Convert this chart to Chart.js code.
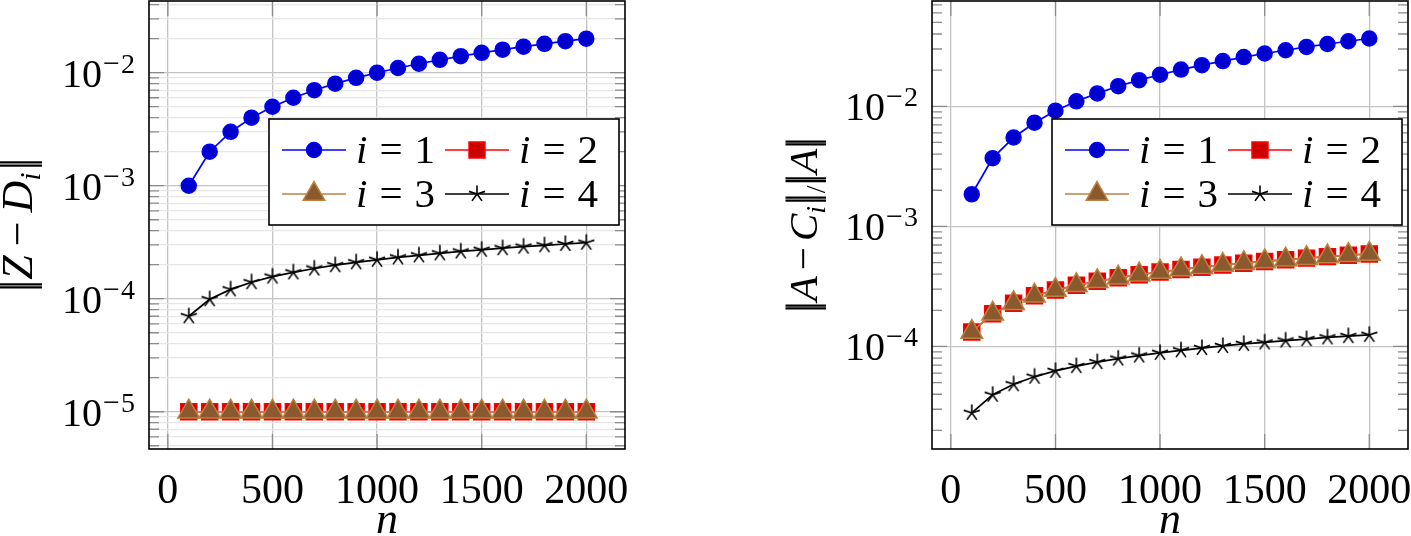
<!DOCTYPE html>
<html>
<head>
<meta charset="utf-8">
<script src="https://cdn.jsdelivr.net/npm/chart.js@4/dist/chart.umd.min.js"></script>
<style>
  html, body { margin: 0; padding: 0; background: #fff; }
  #wrap { position: relative; width: 1411px; height: 536px; }
  .box { position: absolute; top: 0; height: 536px; }
</style>
</head>
<body>
<div id="wrap">
  <div class="box" style="left:0;width:628px"><canvas id="leftPlot"></canvas></div>
  <div class="box" style="left:700px;width:711px"><canvas id="rightPlot"></canvas></div>
</div>
<script>
// ---- data ----
const nValues = [100, 200, 300, 400, 500, 600, 700, 800, 900, 1000, 1100, 1200, 1300, 1400, 1500, 1600, 1700, 1800, 1900, 2000];
const xTickValues = [0, 500, 1000, 1500, 2000];
const leftDecades = [1e-5, 1e-4, 1e-3, 1e-2];
const rightDecades = [1e-4, 1e-3, 1e-2];
const seriesIndex = ['1', '2', '3', '4'];

// left: ||Z - D_i||
const leftI1 = [0.001, 0.002, 0.003, 0.004, 0.005, 0.006, 0.007, 0.008, 0.009, 0.010, 0.011, 0.012, 0.013, 0.014, 0.015, 0.016, 0.017, 0.018, 0.019, 0.020];
const leftI2 = [1e-5, 1e-5, 1e-5, 1e-5, 1e-5, 1e-5, 1e-5, 1e-5, 1e-5, 1e-5, 1e-5, 1e-5, 1e-5, 1e-5, 1e-5, 1e-5, 1e-5, 1e-5, 1e-5, 1e-5];
const leftI3 = [1e-5, 1e-5, 1e-5, 1e-5, 1e-5, 1e-5, 1e-5, 1e-5, 1e-5, 1e-5, 1e-5, 1e-5, 1e-5, 1e-5, 1e-5, 1e-5, 1e-5, 1e-5, 1e-5, 1e-5];
const leftI4 = [7.0e-5, 9.9e-5, 1.21e-4, 1.40e-4, 1.57e-4, 1.71e-4, 1.85e-4, 1.98e-4, 2.10e-4, 2.21e-4, 2.32e-4, 2.42e-4, 2.52e-4, 2.62e-4, 2.71e-4, 2.80e-4, 2.89e-4, 2.97e-4, 3.05e-4, 3.13e-4];

// right: ||A - C_i|| / ||A||
const rightI1 = [0.00185, 0.0037, 0.0055, 0.0073, 0.0092, 0.0110, 0.0128, 0.0147, 0.0165, 0.0183, 0.0202, 0.0220, 0.0238, 0.0257, 0.0275, 0.0293, 0.0312, 0.0330, 0.0348, 0.0367];
const rightI2 = [1.32e-4, 1.87e-4, 2.29e-4, 2.64e-4, 2.95e-4, 3.23e-4, 3.49e-4, 3.73e-4, 3.96e-4, 4.17e-4, 4.38e-4, 4.57e-4, 4.76e-4, 4.94e-4, 5.11e-4, 5.28e-4, 5.44e-4, 5.60e-4, 5.75e-4, 5.90e-4];
const rightI3 = [1.32e-4, 1.87e-4, 2.29e-4, 2.64e-4, 2.95e-4, 3.23e-4, 3.49e-4, 3.73e-4, 3.96e-4, 4.17e-4, 4.38e-4, 4.57e-4, 4.76e-4, 4.94e-4, 5.11e-4, 5.28e-4, 5.44e-4, 5.60e-4, 5.75e-4, 5.90e-4];
const rightI4 = [2.80e-5, 3.96e-5, 4.85e-5, 5.60e-5, 6.26e-5, 6.86e-5, 7.41e-5, 7.92e-5, 8.40e-5, 8.85e-5, 9.29e-5, 9.70e-5, 1.01e-4, 1.05e-4, 1.08e-4, 1.12e-4, 1.15e-4, 1.19e-4, 1.22e-4, 1.25e-4];

// ---- styling ----
const SERIF = '"Liberation Serif", "DejaVu Serif", serif';

// pgfplots-like five-ray star mark
const starImg = document.createElement('canvas');
starImg.width = 20; starImg.height = 20;
(() => {
  const c = starImg.getContext('2d');
  c.strokeStyle = '#000'; c.lineWidth = 1.6;
  c.beginPath();
  for (let k = 0; k < 5; k++) {
    const a = -Math.PI / 2 + k * 2 * Math.PI / 5;
    c.moveTo(10, 10);
    c.lineTo(10 + 8.5 * Math.cos(a), 10 + 8.5 * Math.sin(a));
  }
  c.stroke();
})();

const marks = [
  { line: '#0000ff', fill: '#0000cc', style: 'circle', r: 7.5 },
  { line: '#ff0000', fill: '#cc0000', style: 'rect', r: 11.3 },
  { line: '#bf8040', fill: '#8a5a2e', style: 'triangle', r: 12.5 },
  { line: '#000000', fill: '#000000', style: starImg, r: 8 },
];

function gridValues(lo, hi) {
  const out = [];
  for (let e = Math.floor(Math.log10(lo)) - 1; e <= Math.ceil(Math.log10(hi)); e++) {
    for (let m = 1; m <= 9; m++) {
      const v = m * Math.pow(10, e);
      if (v >= lo && v <= hi) out.push(v);
    }
  }
  return out;
}
const isDecade = v => Math.abs(Math.log10(v) - Math.round(Math.log10(v))) < 1e-9;

function drawRich(ctx, parts, x, y, align) {
  let w = 0;
  parts.forEach(p => {
    ctx.font = (p.italic ? 'italic ' : '') + p.size + 'px ' + SERIF;
    p.w = ctx.measureText(p.t).width;
    w += p.w + (p.gap || 0);
  });
  let cx = align === 'center' ? x - w / 2 : align === 'right' ? x - w : x;
  parts.forEach(p => {
    ctx.font = (p.italic ? 'italic ' : '') + p.size + 'px ' + SERIF;
    ctx.fillText(p.t, cx, y + (p.dy || 0));
    cx += p.w + (p.gap || 0);
  });
}

function drawMark(ctx, m, x, y) {
  if (m.style === starImg) {
    ctx.drawImage(starImg, x - 10, y - 10);
    return;
  }
  ctx.fillStyle = m.fill; ctx.strokeStyle = m.line; ctx.lineWidth = 1.5;
  Chart.helpers.drawPoint(ctx, { pointStyle: m.style, radius: m.r, borderWidth: 1.5, rotation: 0 }, x, y);
}

// norm bars drawn as two close vertical strokes
const bar = size => [{ t: '|', size, gap: -6 }, { t: '|', size }];

const axisDecor = {
  id: 'axisDecor',
  beforeDatasetsDraw(chart, args, o) {
    const { ctx, chartArea: a, scales: { x, y } } = chart;
    ctx.save();
    ctx.strokeStyle = '#8c8c8c';
    ctx.lineWidth = 1.3;
    ctx.beginPath();
    o.grid.forEach(v => {
      const py = y.getPixelForValue(v);
      const len = isDecade(v) ? 15 : 10;
      ctx.moveTo(a.left, py); ctx.lineTo(a.left + len, py);
      ctx.moveTo(a.right, py); ctx.lineTo(a.right - len, py);
    });
    xTickValues.forEach(v => {
      const px = x.getPixelForValue(v);
      ctx.moveTo(px, a.top); ctx.lineTo(px, a.top + 15);
      ctx.moveTo(px, a.bottom); ctx.lineTo(px, a.bottom - 15);
    });
    ctx.stroke();
    ctx.restore();
  },
  afterDraw(chart, args, o) {
    const { ctx, chartArea: a, scales: { x, y } } = chart;
    ctx.save();
    // frame
    ctx.strokeStyle = '#000'; ctx.lineWidth = 1.6;
    ctx.strokeRect(a.left, a.top, a.right - a.left, a.bottom - a.top);
    ctx.fillStyle = '#000';
    ctx.textBaseline = 'alphabetic';
    // x tick labels
    ctx.font = '42px ' + SERIF;
    ctx.textAlign = 'center';
    xTickValues.forEach(v => ctx.fillText(String(v), x.getPixelForValue(v), 503));
    ctx.textAlign = 'left';
    // y tick labels
    o.decades.forEach(v => {
      const py = y.getPixelForValue(v);
      drawRich(ctx, [
        { t: '10', size: 40, gap: 1 },
        { t: '\u2212', size: 30, dy: -14, gap: 1 },
        { t: String(Math.round(-Math.log10(v))), size: 28, dy: -14 },
      ], a.left - 14, py + 14, 'right');
    });
    // x title
    drawRich(ctx, [{ t: 'n', size: 44, italic: true }], (a.left + a.right) / 2, 533, 'center');
    // y title (rotated)
    ctx.save();
    ctx.translate(o.titleX, (a.top + a.bottom) / 2);
    ctx.rotate(-Math.PI / 2);
    drawRich(ctx, o.title, 0, 0, 'center');
    ctx.restore();
    // legend
    const bx = a.right - 356, by = 119, bw = 350, bh = 106;
    ctx.fillStyle = '#fff';
    ctx.fillRect(bx, by, bw, bh);
    ctx.strokeStyle = '#000'; ctx.lineWidth = 1.6;
    ctx.strokeRect(bx, by, bw, bh);
    seriesIndex.forEach((s, k) => {
      const col = k % 2, row = Math.floor(k / 2);
      const x0 = bx + (col ? 176 : 13), yy = by + (row ? 75 : 31);
      const m = marks[k];
      ctx.strokeStyle = m.line; ctx.lineWidth = 1.6;
      ctx.beginPath(); ctx.moveTo(x0, yy); ctx.lineTo(x0 + 64, yy); ctx.stroke();
      drawMark(ctx, m, x0 + 32, yy);
      ctx.fillStyle = '#000';
      drawRich(ctx, [
        { t: 'i', size: 41, italic: true, gap: 12 },
        { t: '=', size: 41, gap: 12 },
        { t: s, size: 41 },
      ], x0 + 74, yy + 13, 'left');
    });
    ctx.restore();
  }
};

function makePlot(id, series, cfg) {
  const grid = gridValues(cfg.ymin, cfg.ymax);
  return new Chart(document.getElementById(id), {
    type: 'line',
    data: {
      datasets: series.map((vals, k) => ({
        label: 'i = ' + seriesIndex[k],
        data: nValues.map((n, j) => ({ x: n, y: vals[j] })),
        borderColor: marks[k].line,
        backgroundColor: marks[k].fill,
        pointBorderColor: marks[k].line,
        pointBackgroundColor: marks[k].fill,
        pointStyle: marks[k].style,
        pointRadius: marks[k].r,
        pointBorderWidth: k === 3 ? 0 : 1.5,
        borderWidth: 1.7,
        tension: 0,
        order: 4 - k,
      })),
    },
    options: {
      responsive: true, maintainAspectRatio: false, animation: false,
      layout: { autoPadding: false, padding: { top: 1, right: 3, left: 0, bottom: 0 } },
      plugins: {
        legend: { display: false }, tooltip: { enabled: false },
        axisDecor: { grid, decades: cfg.decades, title: cfg.title, titleX: cfg.titleX },
      },
      scales: {
        x: {
          type: 'linear', min: -90, max: 2185,
          ticks: { display: false },
          grid: { color: '#c4c4c4', lineWidth: 1.3, drawTicks: false },
          border: { display: false },
          afterBuildTicks: s => { s.ticks = xTickValues.map(v => ({ value: v })); },
          afterFit: s => { s.height = 87; },
        },
        y: {
          type: 'logarithmic', min: cfg.ymin, max: cfg.ymax,
          ticks: { display: false },
          grid: {
            color: c => isDecade(c.tick.value) ? '#c4c4c4' : cfg.minorGrid,
            lineWidth: 1.3, drawTicks: false,
          },
          border: { display: false },
          afterBuildTicks: s => { s.ticks = grid.map(v => ({ value: v })); },
          afterFit: s => { s.width = cfg.axisWidth; },
        },
      },
    },
    plugins: [axisDecor],
  });
}

makePlot('leftPlot', [leftI1, leftI2, leftI3, leftI4], {
  ymin: 4.68e-6, ymax: 0.0431, decades: leftDecades, axisWidth: 149,
  minorGrid: '#e6e6e6', titleX: 32,
  title: [
    ...bar(46), { t: 'Z', size: 44, italic: true, gap: 9 },
    { t: '\u2212', size: 44, gap: 9 }, { t: 'D', size: 44, italic: true },
    { t: 'i', size: 30, italic: true, dy: 8, gap: 2 }, ...bar(46),
  ],
});

makePlot('rightPlot', [rightI1, rightI2, rightI3, rightI4], {
  ymin: 1.40e-5, ymax: 0.0753, decades: rightDecades, axisWidth: 232,
  minorGrid: 'rgba(0,0,0,0)', titleX: 117,
  title: [
    ...bar(44), { t: 'A', size: 41, italic: true, gap: 6 },
    { t: '\u2212', size: 41, gap: 6 }, { t: 'C', size: 41, italic: true },
    { t: 'i', size: 28, italic: true, dy: 8, gap: 1 }, ...bar(44),
    { t: '/', size: 28, dy: 8 }, ...bar(44),
    { t: 'A', size: 41, italic: true }, ...bar(44),
  ],
});
</script>
</body>
</html>
